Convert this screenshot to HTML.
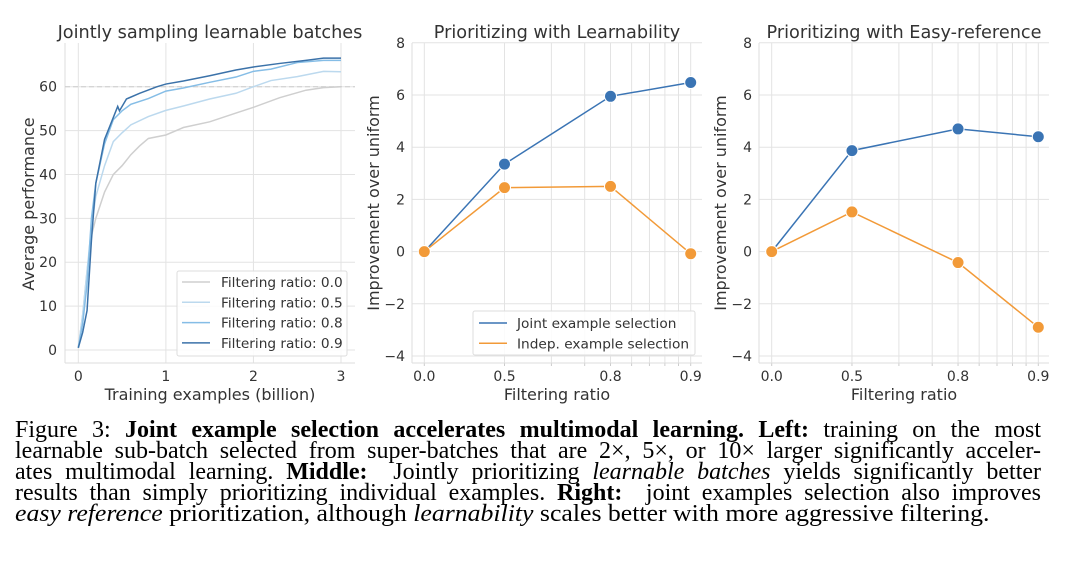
<!DOCTYPE html>
<html><head><meta charset="utf-8">
<style>
body{margin:0;width:1080px;height:565px;background:#fff;overflow:hidden;position:relative}
svg{position:absolute;left:0;top:0}
svg text{font-family:"DejaVu Sans","Liberation Sans",sans-serif;fill:#333}
.cap{position:absolute;left:15px;width:1026px;font-family:"Liberation Serif",serif;font-size:24px;color:#000;line-height:21px;white-space:nowrap}
.cap div{text-align:justify;text-align-last:justify;height:21px}
.cap div.last{text-align-last:left}
.cap div.last span{display:inline-block;transform:scaleX(1.074);transform-origin:0 0}
</style></head><body>
<svg id="fig" width="1080" height="405"></svg>
<div class="cap" style="top:420px">
<div>Figure 3: <b>Joint example selection accelerates multimodal learning. Left:</b> training on the most</div>
<div>learnable sub-batch selected from super-batches that are 2×, 5×, or 10× larger significantly acceler-</div>
<div>ates multimodal learning. <b>Middle:</b>&nbsp; Jointly prioritizing <i>learnable batches</i> yields significantly better</div>
<div>results than simply prioritizing individual examples. <b>Right:</b>&nbsp; joint examples selection also improves</div>
<div class="last"><span><i>easy reference</i> prioritization, although <i>learnability</i> scales better with more aggressive filtering.</span></div>
</div>
<script>
// Left chart data
const ratioLabels=["Filtering ratio: 0.0","Filtering ratio: 0.5","Filtering ratio: 0.8","Filtering ratio: 0.9"];
const curveX0=[0,0.05,0.1,0.15,0.2,0.3,0.4,0.5,0.6,0.7,0.8,1.0,1.2,1.5,1.8,2.0,2.3,2.6,2.8,3.0];
const curveY0=[0.5,8,18,26,30,36,40,42,44.5,46.5,48.2,49,50.7,52,54,55.3,57.5,59.2,59.8,60];
const curveX5=[0,0.05,0.1,0.15,0.2,0.3,0.4,0.5,0.6,0.8,1.0,1.2,1.5,1.8,2.0,2.2,2.5,2.8,3.0];
const curveY5=[0.5,8,18,28,35,42,47.5,49.5,51.3,53.2,54.6,55.6,57.2,58.5,60,61.4,62.3,63.5,63.4];
const curveX8=[0,0.05,0.1,0.15,0.2,0.3,0.4,0.5,0.6,0.8,1.0,1.2,1.5,1.8,2.0,2.2,2.5,2.8,3.0];
const curveY8=[0.5,6,15,30,38,47,52.5,54.5,56,57.3,59,59.7,61,62.2,63.5,64,65.5,66,66];
const curveX9=[0,0.05,0.1,0.15,0.2,0.3,0.4,0.45,0.47,0.55,0.7,0.9,1.0,1.2,1.5,1.8,2.0,2.3,2.6,2.8,3.0];
const curveY9=[0.5,4,9,25,38,48,53,55.5,54.5,57.2,58.5,60,60.6,61.3,62.5,63.8,64.5,65.3,66,66.5,66.5];
const leftYTicks=[0,10,20,30,40,50,60];
const leftXTicks=[0,1,2,3];
// Middle / right data
const ratios=[0.0,0.5,0.8,0.9];
const ratioTickLabels=["0.0","0.5","0.8","0.9"];
const learnJoint=[0,3.35,5.95,6.48];
const learnIndep=[0,2.45,2.5,-0.08];
const easyJoint=[0,3.87,4.7,4.4];
const easyIndep=[0,1.52,-0.42,-2.9];
const impYTicks=[-4,-2,0,2,4,6,8];

const svg=document.getElementById('fig');
const NS='http://www.w3.org/2000/svg';
function el(tag,attrs,parent){const e=document.createElementNS(NS,tag);for(const k in attrs)e.setAttribute(k,attrs[k]);(parent||svg).appendChild(e);return e;}
function txt(s,attrs){const t=el('text',attrs);t.textContent=s;return t;}
const TF=14, AF=16, TT=17.7, LF=13.7;

// ---------- Left chart ----------
{
const g=el('g',{});


const L=65,R=355,T=43,B=363;
const xs=v=>78.3+v*(341-78.3)/3;
const ys=v=>350-v*(350-86.7)/60;
leftXTicks.forEach(v=>{const l=el('line',{x1:xs(v),x2:xs(v),y1:T,y2:B,stroke:'#e3e3e3','stroke-width':1},g);
 const t=txt(String(v),{x:xs(v),y:B+18,'font-size':TF,'text-anchor':'middle'});});
leftYTicks.forEach(v=>{const l=el('line',{x1:L,x2:R,y1:ys(v),y2:ys(v),stroke:'#e3e3e3','stroke-width':1},g);
 const t=txt(String(v),{x:L-8,y:ys(v)+5,'font-size':TF,'text-anchor':'end'});});
el('line',{x1:L,x2:L,y1:T,y2:B,stroke:'#ddd'},g);el('line',{x1:L,x2:R,y1:B,y2:B,stroke:'#ddd'},g);
const ref=el('line',{x1:L,x2:R,y1:ys(60),y2:ys(60),stroke:'#ccc','stroke-dasharray':'5,3','stroke-width':1},g);

const series=[[curveX0,curveY0,'#cfcfcf'],[curveX5,curveY5,'#bcd9ee'],[curveX8,curveY8,'#85bde6'],[curveX9,curveY9,'#3b72a9']];
series.forEach((s,i)=>{const p=el('polyline',{points:s[0].map((x,j)=>xs(x)+','+ys(s[1][j])).join(' '),fill:'none',stroke:s[2],'stroke-width':1.5},g);
 });
const lg=el('rect',{x:177,y:271,width:170,height:85,fill:'#fff','fill-opacity':0.85,stroke:'#ddd',rx:2},g);

series.forEach((s,i)=>{const y=282+i*20.3;el('line',{x1:182,x2:210,y1:y,y2:y,stroke:s[2],'stroke-width':1.5},g);
 const t=txt(ratioLabels[i],{x:221,y:y+5,'font-size':LF});});
const ti=txt('Jointly sampling learnable batches',{x:210,y:38,'font-size':TT,'text-anchor':'middle'});
const xl=txt('Training examples (billion)',{x:210,y:400,'font-size':AF,'text-anchor':'middle'});
const yl=txt('Average performance',{x:0,y:0,'font-size':AF,'text-anchor':'middle',transform:'translate(34,204) rotate(-90)'});
}

// ---------- Improvement charts ----------
function impChart(name,title,L,R,x0,x9,joint,indep,legend){
const g=el('g',{});


const T=43,B=363;
const tr=r=>Math.log10(1/(1-r));
const xs=r=>x0+tr(r)*(x9-x0);
const ys=v=>251.6-v*26.1;
for(let k=1;k<=10;k++){const x=x0+Math.log10(k)*(x9-x0);const l=el('line',{x1:x,x2:x,y1:T,y2:B,stroke:'#e3e3e3'},g);
 el('line',{x1:x,x2:x,y1:B,y2:B+3,stroke:'#ccc'},g);}
impYTicks.forEach(v=>{const l=el('line',{x1:L,x2:R,y1:ys(v),y2:ys(v),stroke:'#e3e3e3'},g);
 const t=txt(v<0?'\u2212'+(-v):String(v),{x:L-7,y:ys(v)+5,'font-size':TF,'text-anchor':'end'});});
ratios.forEach((r,i)=>{const t=txt(ratioTickLabels[i],{x:xs(r),y:B+18,'font-size':TF,'text-anchor':'middle'});});
el('line',{x1:L,x2:L,y1:T,y2:B,stroke:'#ddd'},g);el('line',{x1:L,x2:R,y1:B,y2:B,stroke:'#ddd'},g);
[[joint,'#3a74b4','joint'],[indep,'#f29a38','indep']].forEach(s=>{
 const p=el('polyline',{points:ratios.map((r,j)=>xs(r)+','+ys(s[0][j])).join(' '),fill:'none',stroke:s[1],'stroke-width':1.5},g);
 
 ratios.forEach((r,j)=>{const c=el('circle',{cx:xs(r),cy:ys(s[0][j]),r:6,fill:s[1],stroke:'#fff','stroke-width':1},g);
  });
});
const ti=txt(title,{x:(L+R)/2,y:38,'font-size':TT,'text-anchor':'middle'});
const xl=txt('Filtering ratio',{x:(L+R)/2,y:400,'font-size':AF,'text-anchor':'middle'});
const yl=txt('Improvement over uniform',{x:0,y:0,'font-size':AF,'text-anchor':'middle',transform:'translate('+(L-33)+',203) rotate(-90)'});
if(legend){
 const lg=el('rect',{x:473,y:311,width:222,height:44,fill:'#fff','fill-opacity':0.85,stroke:'#ddd',rx:2},g);
 
 [['Joint example selection','#3a74b4'],['Indep. example selection','#f29a38']].forEach((e,i)=>{const y=323+i*20.3;
  el('line',{x1:479,x2:507,y1:y,y2:y,stroke:e[1],'stroke-width':1.5},g);
  const t=txt(e[0],{x:517,y:y+5,'font-size':LF});});
}
}
impChart('middle-chart','Prioritizing with Learnability',412,702,424.3,690.7,learnJoint,learnIndep,true);
impChart('right-chart','Prioritizing with Easy-reference',759,1049,771.7,1038.3,easyJoint,easyIndep,false);
</script>
</body></html>
